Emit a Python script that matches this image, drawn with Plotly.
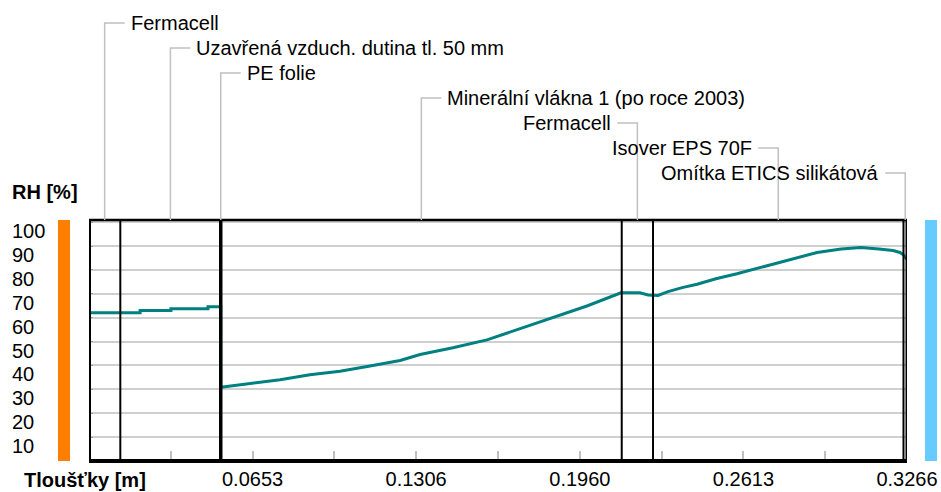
import plotly.graph_objects as go

# ---------------- data ----------------
layer_names = [
    "Fermacell",
    "Uzavřená vzduch. dutina tl. 50 mm",
    "PE folie",
    "Minerální vlákna 1 (po roce 2003)",
    "Fermacell",
    "Isover EPS 70F",
    "Omítka ETICS silikátová",
]
layer_thickness_m = [0.0125, 0.0400, 0.0002, 0.1600, 0.0125, 0.1000, 0.0014]

depth_m = [
    0.0000, 0.0204, 0.0204, 0.0327, 0.0327, 0.0475, 0.0475, 0.0526,
    0.0526, 0.0643, 0.0763, 0.0882, 0.1002, 0.1122, 0.1242, 0.1322,
    0.1453, 0.1589, 0.1721, 0.1853, 0.1988, 0.2124, 0.2200, 0.2232,
    0.2272, 0.2312, 0.2368, 0.2428, 0.2503, 0.2587, 0.2667, 0.2743,
    0.2827, 0.2907, 0.3003, 0.3082, 0.3154, 0.3210, 0.3238, 0.3250,
    0.3266,
]
rh_pct = [
    62.1, 62.1, 63.0, 63.0, 63.7, 63.7, 64.6, 64.6,
    30.9, 32.3, 34.0, 36.1, 37.6, 39.8, 42.1, 44.6,
    47.4, 50.7, 55.3, 59.9, 64.9, 70.4, 70.4, 69.5,
    69.3, 70.9, 72.6, 74.0, 76.3, 78.4, 80.7, 82.8,
    85.3, 87.3, 88.8, 89.4, 88.8, 88.1, 87.3, 86.4,
    84.4,
]

x_tick_vals = [0.0653, 0.1306, 0.1960, 0.2613, 0.3266]
x_tick_labels = ["0.0653", "0.1306", "0.1960", "0.2613", "0.3266"]
y_tick_vals = [100, 90, 80, 70, 60, 50, 40, 30, 20, 10]
y_tick_labels = ["100", "90", "80", "70", "60", "50", "40", "30", "20", "10"]

y_title = "RH [%]"
x_title = "Tloušťky [m]"

# ---------------- style ----------------
W, H = 941, 492
ML, MR, MT, MB = 89, 34, 220, 31
PW, PH = W - ML - MR, H - MT - MB
FONT = "Liberation Sans, Arial, sans-serif"
FS = 20
TEAL = "#008080"
GRID = "#cfcfcf"
LEADER = "#c0c0c0"

total = sum(layer_thickness_m)
bounds = [0.0]
for t in layer_thickness_m:
    bounds.append(bounds[-1] + t)

fig = go.Figure()
fig.add_trace(go.Scatter(
    x=depth_m, y=rh_pct, mode="lines",
    line=dict(color=TEAL, width=3), hoverinfo="skip",
))

shapes = []
annotations = []

def py(px_y):
    """pixel row -> paper y"""
    return (H - MB - px_y) / PH

def px_x(px):
    """pixel x -> paper x"""
    return (px - ML) / PW

# layer boundary lines
for i, b in enumerate(bounds):
    thin_adj = (i > 0 and layer_thickness_m[i - 1] < 0.001) or \
               (i < len(layer_thickness_m) and layer_thickness_m[i] < 0.001)
    w = 2
    if thin_adj:
        w = 3
    if i == 0:
        w = 4
    if i == len(bounds) - 1:
        w = 3
    shapes.append(dict(type="line", xref="x", yref="paper", x0=b, x1=b, y0=0, y1=1,
                       line=dict(color="black", width=w), layer="above"))
# top / bottom frame
shapes.append(dict(type="line", xref="paper", yref="paper", x0=0, x1=1, y0=1, y1=1,
                   line=dict(color="black", width=2.5)))
shapes.append(dict(type="line", xref="paper", yref="paper", x0=0, x1=1, y0=0, y1=0,
                   line=dict(color="black", width=4)))

# side colour bars
shapes.append(dict(type="rect", xref="paper", yref="paper", x0=px_x(58), x1=px_x(70),
                   y0=0, y1=1, line=dict(width=0), fillcolor="#FF8000"))
shapes.append(dict(type="rect", xref="paper", yref="paper", x0=px_x(925), x1=px_x(937),
                   y0=0, y1=1, line=dict(width=0), fillcolor="#66CCFF"))

# layer labels with leaders
dx = 20 * total / PW
for i, name in enumerate(layer_names):
    c = (bounds[i] + bounds[i + 1]) / 2
    d = 1 if c < total / 2 else -1
    yl = py(23 + 25 * i)
    shapes.append(dict(type="path", xref="x", yref="paper",
                       path=f"M {c},{1} L {c},{yl} L {c + d * dx},{yl}",
                       line=dict(color=LEADER, width=1.5)))
    annotations.append(dict(x=c + d * dx, y=yl, xref="x", yref="paper",
                            text=name, showarrow=False,
                            xanchor="left" if d > 0 else "right", yanchor="middle",
                            xshift=4 * d, font=dict(family=FONT, size=FS, color="black")))

# y tick labels (left aligned)
for v, t in zip(y_tick_vals, y_tick_labels):
    annotations.append(dict(x=px_x(10), y=v, xref="paper", yref="y", text=t,
                            showarrow=False, xanchor="left", yanchor="middle",
                            yshift=-9, font=dict(family=FONT, size=FS, color="black")))

# axis titles
annotations.append(dict(x=px_x(10), y=py(192), xref="paper", yref="paper",
                        text=f"<b>{y_title}</b>", showarrow=False,
                        xanchor="left", yanchor="middle",
                        font=dict(family=FONT, size=FS, color="black")))
annotations.append(dict(x=px_x(22), y=py(480), xref="paper", yref="paper",
                        text=f"<b>{x_title}</b>", showarrow=False,
                        xanchor="left", yanchor="middle",
                        font=dict(family=FONT, size=FS, color="black")))

fig.update_layout(
    width=W, height=H,
    margin=dict(l=ML, r=MR, t=MT, b=MB, pad=0, autoexpand=False),
    paper_bgcolor="white", plot_bgcolor="white",
    showlegend=False,
    shapes=shapes, annotations=annotations,
    xaxis=dict(
        range=[0, total], showgrid=False, zeroline=False, showline=False,
        automargin=False,
        tickvals=x_tick_vals, ticktext=x_tick_labels,
        ticks="inside", ticklen=10, tickwidth=1.5, tickcolor=LEADER,
        ticklabelstandoff=4,
        tickfont=dict(family=FONT, size=FS, color="black"),
        minor=dict(ticks="inside", ticklen=10, tickwidth=1.5, tickcolor=LEADER,
                   dtick=total / 10, tick0=0),
        fixedrange=True,
    ),
    yaxis=dict(
        range=[0, 100.9], dtick=10, tick0=0, showgrid=True, gridcolor=GRID,
        gridwidth=2, zeroline=False, showline=False, showticklabels=False,
        automargin=False,
        ticks="inside", ticklen=4, tickcolor="#9a9a9a", fixedrange=True,
    ),
)

fig.write_html(
    "out.html",
    config={"displayModeBar": False},
    post_script="document.body.style.margin='0';document.body.style.overflow='hidden';",
)
